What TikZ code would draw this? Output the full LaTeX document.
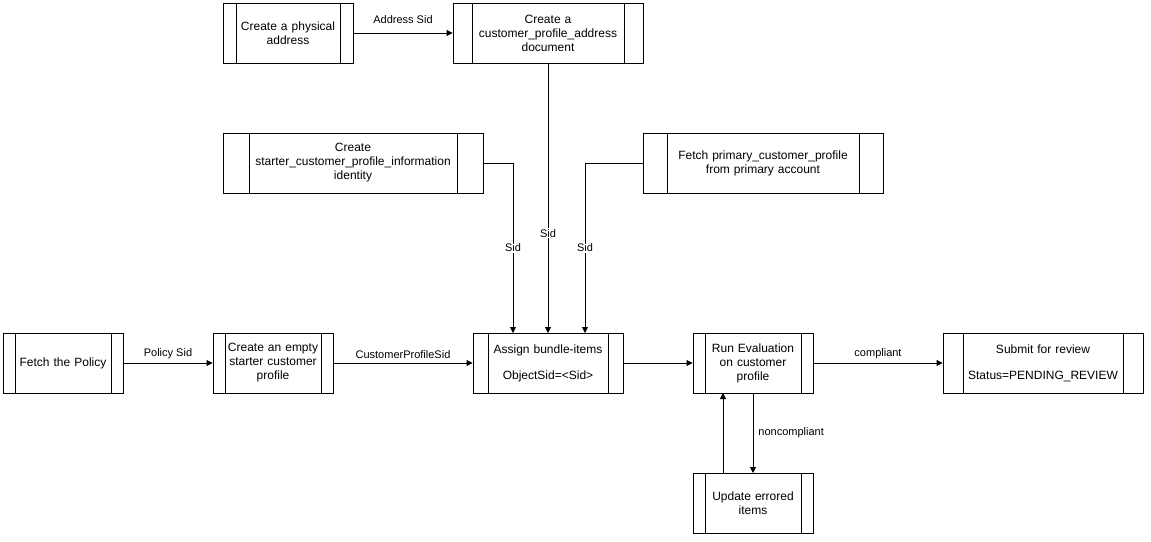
\documentclass[tikz,border=0pt]{standalone}
\usepackage{fontspec}
\setmainfont{Liberation Sans}
\usetikzlibrary{arrows.meta}
\begin{document}
\begin{tikzpicture}[x=1pt,y=-1pt,
  proc/.style={draw,line width=0.9pt,minimum height=60pt,align=center,inner sep=0pt,
    font=\fontsize{12}{14}\selectfont,
    append after command={\pgfextra{\let\mynode\tikzlastnode}}},
  arr/.style={-{Triangle[length=6pt,width=6pt]},line width=0.9pt},
  lbl/.style={font=\fontsize{11}{13}\selectfont,fill=white,inner sep=1pt}]
\useasboundingbox (0,0) rectangle (1151,541);
\newcommand{\pbox}[6]{% name, x1, y1, x2, y2, text
  \node[proc,minimum width={#4-#2},text width={#4-#2-2*0.1*(#4-#2)-4}] (#1) at ({(#2+#4)/2},{(#3+#5)/2}) {#6};
  \draw[line width=0.9pt] ({#2+0.1*(#4-#2)},#3) -- ({#2+0.1*(#4-#2)},#5)
    ({#4-0.1*(#4-#2)},#3) -- ({#4-0.1*(#4-#2)},#5);}
\pbox{phys}{223}{3}{353}{63}{Create a physical\\address}
\pbox{doc}{453}{3}{643}{63}{Create a\\customer\_profile\_address\\document}
\pbox{ident}{223}{133}{483}{193}{Create\\starter\_customer\_profile\_information\\identity}
\pbox{prim}{643}{133}{883}{193}{Fetch primary\_customer\_profile\\from primary account}
\pbox{policy}{3}{333}{123}{393}{Fetch the Policy}
\pbox{empty}{213}{333}{333}{393}{Create an empty\\starter customer\\profile}
\pbox{assign}{473}{333}{623}{393}{Assign bundle-items\\[12pt]ObjectSid=<Sid>}
\pbox{run}{693}{333}{813}{393}{Run Evaluation\\on customer\\profile}
\pbox{submit}{943}{333}{1143}{393}{Submit for review\\[12pt]Status=PENDING\_REVIEW}
\pbox{upd}{693}{473}{813}{533}{Update errored\\items}
\draw[arr] (phys) -- (doc) node[midway,above=8pt,lbl]{Address Sid};
\draw[arr] (ident.east) -| (513,333) node[pos=0.75,lbl]{Sid};
\draw[arr] (doc.south) -- (548,333) node[pos=0.63,lbl]{Sid};
\draw[arr] (prim.west) -| (585,333) node[pos=0.75,lbl]{Sid};
\draw[arr] (policy) -- (empty) node[midway,above=3pt,lbl]{Policy Sid};
\draw[arr] (empty) -- (assign) node[midway,above=3pt,lbl]{CustomerProfileSid};
\draw[arr] (assign) -- (run);
\draw[arr] (run) -- (submit) node[midway,above=3pt,lbl]{compliant};
\draw[arr] (753,393) -- (753,473) node[midway,right=4pt,lbl]{noncompliant};
\draw[arr] (723,473) -- (723,393);
\end{tikzpicture}
\end{document}
